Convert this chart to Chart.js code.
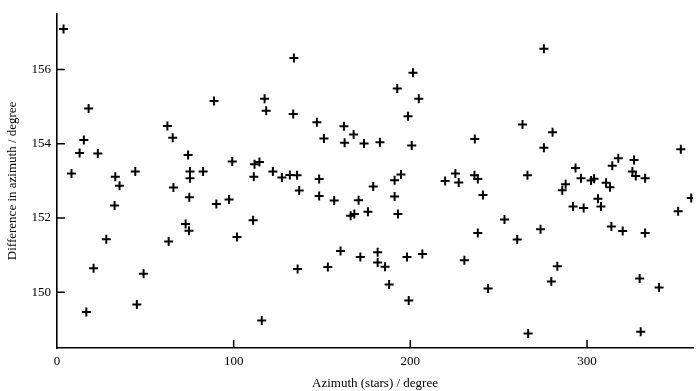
<!DOCTYPE html>
<html lang="en">
<head>
    <meta charset="UTF-8">
    <title>Difference in azimuth vs azimuth of stars</title>
    <script src="https://cdn.jsdelivr.net/npm/chart.js"></script>
    <style>
        body { margin: 0; background: #fff; }
        #wrap { width: 700px; height: 391px; }
    </style>
</head>
<body>
    <div id="wrap"><canvas id="chart"></canvas></div>

    <script>
        // azimuth of the stars (degree) and measured azimuth difference (degree)
        const azimuthStars = [
            3.7, 8.2, 12.8, 15.2, 16.6, 17.9, 20.7, 23.1, 27.9, 32.6,
            33.0, 35.4, 44.3, 45.2, 49.0, 62.5, 63.2, 65.5, 65.9, 72.8,
            74.2, 74.7, 74.9, 75.3, 75.3, 82.7, 88.9, 90.2, 97.4, 99.2,
            101.9, 111.0, 111.4, 111.8, 114.6, 115.9, 117.5, 118.4, 122.2, 127.3,
            131.8, 133.7, 134.1, 135.9, 136.2, 137.1, 147.1, 148.4, 148.4, 151.1,
            153.3, 156.9, 160.5, 162.4, 162.8, 166.2, 167.9, 168.3, 170.7, 171.7,
            173.8, 176.0, 179.0, 181.5, 181.5, 182.8, 185.7, 188.0, 191.1, 191.1,
            192.6, 193.0, 194.7, 198.1, 198.7, 199.1, 200.8, 201.5, 204.8, 206.8,
            219.7, 225.5, 227.4, 230.6, 236.3, 236.5, 238.2, 238.2, 241.1, 244.0,
            253.3, 260.5, 263.5, 266.3, 266.7, 273.7, 275.6, 275.6, 279.8, 280.5,
            283.2, 286.0, 287.9, 292.1, 293.5, 296.6, 298.1, 302.3, 304.0, 306.2,
            307.9, 310.8, 313.0, 313.8, 314.3, 317.7, 320.2, 325.7, 326.6, 327.6,
            329.8, 330.4, 332.9, 332.9, 340.8, 351.6, 353.1, 359.0
        ];
        const azimuthDiff = [
            157.09, 153.20, 153.75, 154.10, 149.47, 154.95, 150.65, 153.74, 151.43, 152.34,
            153.11, 152.87, 153.25, 149.67, 150.50, 154.48, 151.37, 154.16, 152.82, 151.84,
            153.70, 151.66, 152.56, 153.25, 153.07, 153.25, 155.15, 152.38, 152.50, 153.52,
            151.49, 151.94, 153.11, 153.45, 153.51, 149.24, 155.21, 154.89, 153.25, 153.09,
            153.16, 154.80, 156.31, 153.15, 150.63, 152.74, 154.58, 153.05, 152.59, 154.14,
            150.68, 152.47, 151.11, 154.47, 154.03, 152.06, 154.25, 152.11, 152.48, 150.95,
            154.01, 152.17, 152.85, 151.08, 150.80, 154.04, 150.69, 150.21, 153.02, 152.58,
            155.49, 152.11, 153.17, 150.95, 154.74, 149.78, 153.95, 155.91, 155.21, 151.03,
            153.00, 153.20, 152.96, 150.86, 153.15, 154.13, 153.05, 151.60, 152.62, 150.10,
            151.96, 151.42, 154.52, 153.15, 148.89, 151.70, 156.56, 153.89, 150.29, 154.31,
            150.70, 152.75, 152.91, 152.31, 153.35, 153.07, 152.27, 153.01, 153.06, 152.52,
            152.31, 152.95, 152.83, 151.77, 153.41, 153.61, 151.65, 153.25, 153.56, 153.13,
            150.37, 148.94, 153.07, 151.60, 150.13, 152.18, 153.85, 152.54
        ];

        const xRange = [0, 360];
        const yRange = [148.5, 157.5];
        const xStep = 100;
        const yStep = 2;

        const serif = '"Liberation Serif", "DejaVu Serif", serif';

        // ticks point inwards into the plot area
        const innerTicks = {
            id: 'innerTicks',
            afterDraw(chart) {
                const ctx = chart.ctx;
                const area = chart.chartArea;
                const len = 8;
                ctx.save();
                ctx.strokeStyle = '#000';
                ctx.lineWidth = 1.5;
                ctx.beginPath();
                chart.scales.x.ticks.forEach((t, i) => {
                    const px = chart.scales.x.getPixelForTick(i);
                    if (Math.abs(px - area.left) < 1) return;
                    ctx.moveTo(px, area.bottom);
                    ctx.lineTo(px, area.bottom - len);
                });
                chart.scales.y.ticks.forEach((t, i) => {
                    const py = chart.scales.y.getPixelForTick(i);
                    ctx.moveTo(area.left, py);
                    ctx.lineTo(area.left + len, py);
                });
                ctx.stroke();
                ctx.restore();
            }
        };

        const points = azimuthStars.map((x, i) => ({ x: x, y: azimuthDiff[i] }));

        new Chart(document.getElementById('chart'), {
            type: 'scatter',
            data: {
                datasets: [{
                    data: points,
                    pointStyle: 'cross',
                    pointRadius: 4.5,
                    pointHoverRadius: 4.5,
                    borderColor: '#000',
                    backgroundColor: '#000',
                    borderWidth: 2,
                    clip: 0
                }]
            },
            options: {
                responsive: true,
                maintainAspectRatio: false,
                animation: false,
                layout: { padding: { top: 12, right: 7, bottom: 0, left: 0 } },
                plugins: {
                    legend: { display: false },
                    tooltip: { enabled: false }
                },
                scales: {
                    x: {
                        type: 'linear',
                        min: xRange[0],
                        max: xRange[1],
                        grid: { display: false, drawTicks: false },
                        border: { display: true, color: '#000', width: 1.6 },
                        ticks: {
                            stepSize: xStep,
                            includeBounds: false,
                            padding: 6,
                            color: '#000',
                            font: { family: serif, size: 13 }
                        },
                        title: {
                            display: true,
                            text: 'Azimuth (stars) / degree',
                            color: '#000',
                            font: { family: serif, size: 13 },
                            padding: 0
                        },
                        afterFit(scale) { scale.height = 43; }
                    },
                    y: {
                        type: 'linear',
                        min: yRange[0],
                        max: yRange[1],
                        grid: { display: false, drawTicks: false },
                        border: { display: true, color: '#000', width: 1.6 },
                        ticks: {
                            stepSize: yStep,
                            includeBounds: false,
                            padding: 6,
                            color: '#000',
                            font: { family: serif, size: 13 }
                        },
                        title: {
                            display: true,
                            text: 'Difference in azimuth / degree',
                            color: '#000',
                            font: { family: serif, size: 13 },
                            padding: { top: 5, bottom: 0 }
                        },
                        afterFit(scale) { scale.width = 57; }
                    }
                }
            },
            plugins: [innerTicks]
        });
    </script>
</body>
</html>
